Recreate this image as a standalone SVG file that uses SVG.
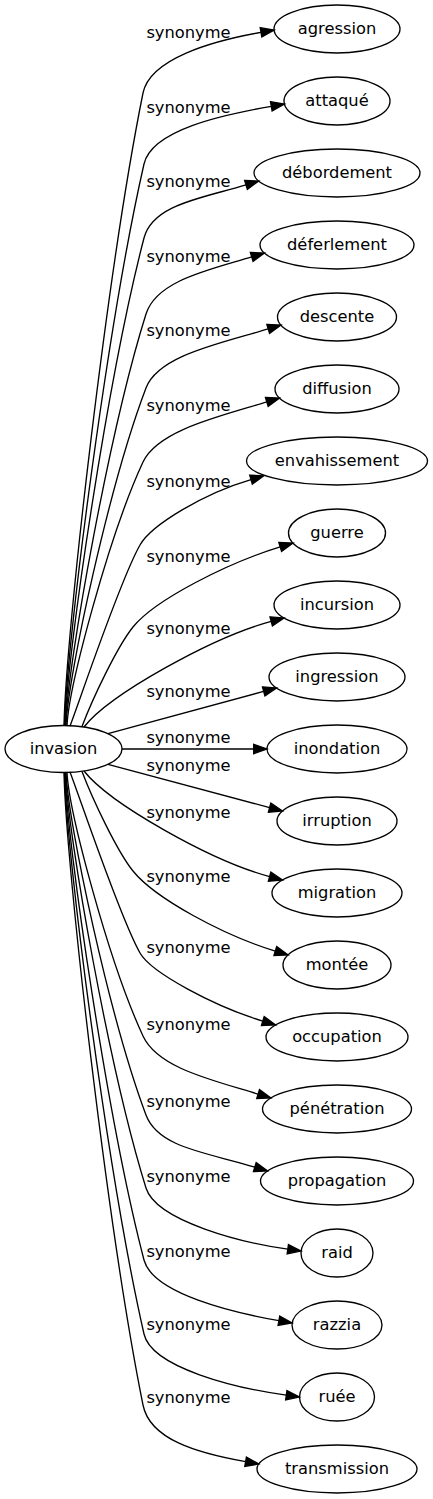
<svg xmlns="http://www.w3.org/2000/svg" width="433" height="1499" viewBox="0 0 433 1499">
<style>
.n ellipse{fill:none;stroke:#000;stroke-width:1.33}
.n text,.lb text{font-family:"DejaVu Sans",sans-serif;font-size:16.3px;fill:#000;text-anchor:middle}
.e path{fill:none;stroke:#000;stroke-width:1.33;marker-end:url(#arr)}
</style>
<defs>
<marker id="arr" markerUnits="userSpaceOnUse" markerWidth="16" markerHeight="12" viewBox="0 -6 16 12" refX="0" refY="0" orient="auto" overflow="visible"><path d="M0,-4.7L13.3,0L0,4.7z" fill="#000" stroke="#000" stroke-width="1.33"/></marker>
</defs>
<rect width="433" height="1499" fill="#fff"/>
<g id="edges" class="e">
<path d="M64,725.5 C66,630.6 107.4,270.1 143,93 C149.9,58.7 211.8,41 261,32.3"/>
<path d="M64.5,725.5 C66.5,641.3 108.2,321.2 144,164 C151.8,129.9 222.1,115 271.3,106.3"/>
<path d="M65,725.5 C67,652.4 108.4,374.5 144,238 C152.8,204.1 203,198 246,184.9"/>
<path d="M65.5,725.5 C67.5,663.8 109.8,429.2 146,314 C156.5,280.6 208.7,270 251.7,256.9"/>
<path d="M66,725.5 C68,674.9 110,482.5 146,388 C158.5,355.3 220.4,343.5 268.2,328.9"/>
<path d="M67,725.5 C69,686 108.8,535.8 143,462 C157.7,430.3 219,416.5 266.8,401.9"/>
<path d="M70,726 C80,700 120,580 140,545 C151.4,525 204,493.3 251,479.6"/>
<path d="M82,726.5 C92.8,698.1 117.3,646.5 133,627 C155,599.7 227.6,563 280.2,546.9"/>
<path d="M84,727 C110,694 213.2,637 271.2,621.4"/>
<path d="M108,733.7 L263.7,691.4"/>
<path d="M122,749 L253.7,749"/>
<path d="M108,764.3 L269.6,807.6"/>
<path d="M84,771 C110,804 211.6,861.1 269.6,876.6"/>
<path d="M82,771.5 C92.8,799.9 117.3,851.5 133,871 C155,898.3 222.7,935 275.3,951.1"/>
<path d="M70,772 C80,798 120,918 140,953 C151.4,973 215,1006.5 262.8,1021.1"/>
<path d="M67,772.5 C69,812 108.8,962.2 143,1036 C157.7,1067.7 210.3,1079.5 258.1,1094.1"/>
<path d="M66,772.5 C68,823.9 110,1019.1 146,1115 C158.3,1147.8 207,1152.5 254.8,1167.1"/>
<path d="M65.5,772.5 C67.5,834.8 109.8,1071.7 146,1188 C156.4,1221.4 243.3,1242.9 287.8,1249.2"/>
<path d="M65,772.5 C67,845.6 108.4,1123.5 144,1260 C152.8,1293.9 234.6,1312.9 278.9,1320.7"/>
<path d="M64.5,772.5 C66.5,856.7 108.2,1176.8 144,1334 C151.8,1368.1 236.8,1388.2 286.3,1395.2"/>
<path d="M64,772.5 C66,867.4 107.4,1227.9 143,1405 C149.9,1439.3 196.4,1453 245.6,1461.7"/>
</g>
<g id="labels" class="lb">
<text x="188.5" y="38">synonyme</text>
<text x="188.5" y="113">synonyme</text>
<text x="188.5" y="187">synonyme</text>
<text x="188.5" y="261.5">synonyme</text>
<text x="188.5" y="336">synonyme</text>
<text x="188.5" y="410.5">synonyme</text>
<text x="188.5" y="486.5">synonyme</text>
<text x="188.5" y="562">synonyme</text>
<text x="188.5" y="634">synonyme</text>
<text x="188.5" y="696.5">synonyme</text>
<text x="188.5" y="743">synonyme</text>
<text x="188.5" y="771">synonyme</text>
<text x="188.5" y="818">synonyme</text>
<text x="188.5" y="882">synonyme</text>
<text x="188.5" y="953">synonyme</text>
<text x="188.5" y="1030">synonyme</text>
<text x="188.5" y="1106.5">synonyme</text>
<text x="188.5" y="1181.5">synonyme</text>
<text x="188.5" y="1256.5">synonyme</text>
<text x="188.5" y="1330">synonyme</text>
<text x="188.5" y="1403">synonyme</text>
</g>
<g id="invasion" class="n"><ellipse cx="63.5" cy="749" rx="58.5" ry="23.5"/><text x="63.5" y="754">invasion</text></g>
<g id="agression" class="n"><ellipse cx="337" cy="29" rx="63" ry="24"/><text x="337" y="34">agression</text></g>
<g id="attaque" class="n"><ellipse cx="337" cy="101" rx="53" ry="24"/><text x="337" y="106">attaqué</text></g>
<g id="debordement" class="n"><ellipse cx="337" cy="173" rx="83" ry="24"/><text x="337" y="178">débordement</text></g>
<g id="deferlement" class="n"><ellipse cx="337" cy="245" rx="77" ry="24"/><text x="337" y="250">déferlement</text></g>
<g id="descente" class="n"><ellipse cx="337" cy="317" rx="59.5" ry="24"/><text x="337" y="322">descente</text></g>
<g id="diffusion" class="n"><ellipse cx="337" cy="389" rx="62" ry="24"/><text x="337" y="394">diffusion</text></g>
<g id="envahissement" class="n"><ellipse cx="337" cy="461" rx="90.5" ry="24"/><text x="337" y="466">envahissement</text></g>
<g id="guerre" class="n"><ellipse cx="337" cy="533" rx="48.5" ry="24"/><text x="337" y="538">guerre</text></g>
<g id="incursion" class="n"><ellipse cx="337" cy="605" rx="63" ry="24"/><text x="337" y="610">incursion</text></g>
<g id="ingression" class="n"><ellipse cx="337" cy="677" rx="68" ry="24"/><text x="337" y="682">ingression</text></g>
<g id="inondation" class="n"><ellipse cx="337" cy="749" rx="70" ry="24"/><text x="337" y="754">inondation</text></g>
<g id="irruption" class="n"><ellipse cx="337" cy="821" rx="60" ry="24"/><text x="337" y="826">irruption</text></g>
<g id="migration" class="n"><ellipse cx="337" cy="893" rx="65" ry="24"/><text x="337" y="898">migration</text></g>
<g id="montee" class="n"><ellipse cx="337" cy="965" rx="54" ry="24"/><text x="337" y="970">montée</text></g>
<g id="occupation" class="n"><ellipse cx="337" cy="1037" rx="71" ry="24"/><text x="337" y="1042">occupation</text></g>
<g id="penetration" class="n"><ellipse cx="337" cy="1109" rx="74.5" ry="24"/><text x="337" y="1114">pénétration</text></g>
<g id="propagation" class="n"><ellipse cx="337" cy="1181" rx="76.5" ry="24"/><text x="337" y="1186">propagation</text></g>
<g id="raid" class="n"><ellipse cx="337" cy="1253" rx="36" ry="24"/><text x="337" y="1258">raid</text></g>
<g id="razzia" class="n"><ellipse cx="337" cy="1325" rx="45" ry="24"/><text x="337" y="1330">razzia</text></g>
<g id="ruee" class="n"><ellipse cx="337" cy="1397" rx="37.5" ry="24"/><text x="337" y="1402">ruée</text></g>
<g id="transmission" class="n"><ellipse cx="337" cy="1469" rx="80" ry="24"/><text x="337" y="1474">transmission</text></g>
</svg>
